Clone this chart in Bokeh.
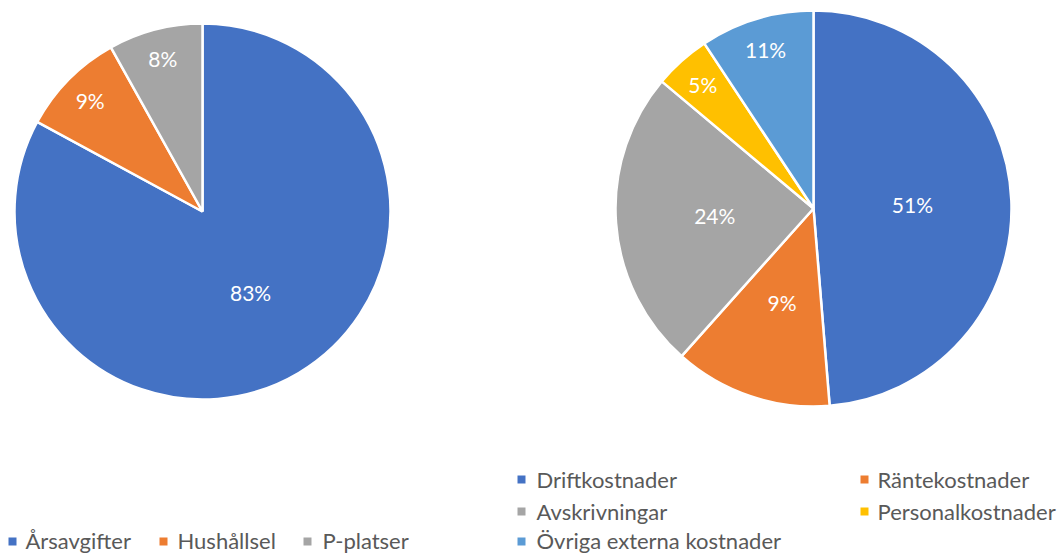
import math
from bokeh.plotting import figure
from bokeh.models import Range1d, ColumnDataSource
from bokeh.core.properties import value
from bokeh.embed import file_html
from bokeh.resources import INLINE

# ---- data ----
left_categories = ["Årsavgifter", "Hushållsel", "P-platser"]
left_values = [82.9, 9.0, 8.1]
left_labels = ["83%", "9%", "8%"]

right_categories = ["Driftkostnader", "Räntekostnader", "Avskrivningar",
                    "Personalkostnader", "Övriga externa kostnader"]
right_values = [48.7, 12.9, 24.5, 4.6, 9.3]
right_labels = ["51%", "9%", "24%", "5%", "11%"]

left_colors = ["#4472C4", "#ED7D31", "#A5A5A5"]
right_colors = ["#4472C4", "#ED7D31", "#A5A5A5", "#FFC000", "#5B9BD5"]

W, H = 1059, 554
FONT = "Lato"
TEXT_GREY = "#595959"
LABEL_SIZE = "21px"
LEGEND_SIZE = "22px"

p = figure(width=W, height=H, output_backend="svg", toolbar_location=None,
           x_range=Range1d(0, W), y_range=Range1d(0, H),
           min_border=0, min_border_left=0, min_border_right=0,
           min_border_top=0, min_border_bottom=0)
p.axis.visible = False
p.grid.visible = False
p.outline_line_color = None
p.background_fill_color = "white"
p.border_fill_color = "white"


def draw_pie(cx, cy, r, vals, labels, colors):
    total = float(sum(vals))
    fr = [v / total for v in vals]
    starts, ends, lx, ly = [], [], [], []
    cum = 0.0
    for f in fr:
        s = math.pi / 2 - 2 * math.pi * cum
        e = math.pi / 2 - 2 * math.pi * (cum + f)
        mid = math.pi / 2 - 2 * math.pi * (cum + f / 2)
        k = 0.5 if f > 0.12 else 0.84
        starts.append(s)
        ends.append(e)
        lx.append(cx + r * k * math.cos(mid))
        ly.append(cy + r * k * math.sin(mid))
        cum += f
    src = ColumnDataSource(dict(x=[cx] * len(vals), y=[cy] * len(vals),
                                s=starts, e=ends, c=colors))
    p.wedge(x="x", y="y", radius=r, start_angle="s", end_angle="e",
            direction="clock", fill_color="c", line_color="white",
            line_width=2.5, source=src)
    p.text(x=lx, y=ly, text=labels, text_color="white",
           text_font=value(FONT), text_font_size=LABEL_SIZE,
           text_align="center", text_baseline="middle")


draw_pie(202, H - 211, 188, left_values, left_labels, left_colors)
draw_pie(813, H - 208, 198, right_values, right_labels, right_colors)


def draw_legend(cats, colors, sq_x, txt_x, sq_y, txt_y):
    p.scatter(x=sq_x, y=sq_y, marker="square", size=8, fill_color=colors,
              line_color=None)
    p.text(x=txt_x, y=txt_y, text=cats, text_color=TEXT_GREY,
           text_font=value(FONT), text_font_size=LEGEND_SIZE,
           text_align="left", text_baseline="middle")


# left legend: one row (kept just inside the bottom edge)
draw_legend(left_categories, left_colors,
            [12, 163, 307], [25, 177, 322],
            [H - 541] * 3, [H - 540] * 3)

# right legend: two columns, row-major
rx_sq = [521, 864, 521, 864, 521]
rx_tx = [536, 877, 536, 877, 536]
row_sq = [479, 479, 511, 511, 541]
row_tx = [479, 479, 511, 511, 540]
draw_legend(right_categories, right_colors, rx_sq, rx_tx,
            [H - c for c in row_sq], [H - c for c in row_tx])

open("out.html", "w").write(file_html(p, INLINE))
